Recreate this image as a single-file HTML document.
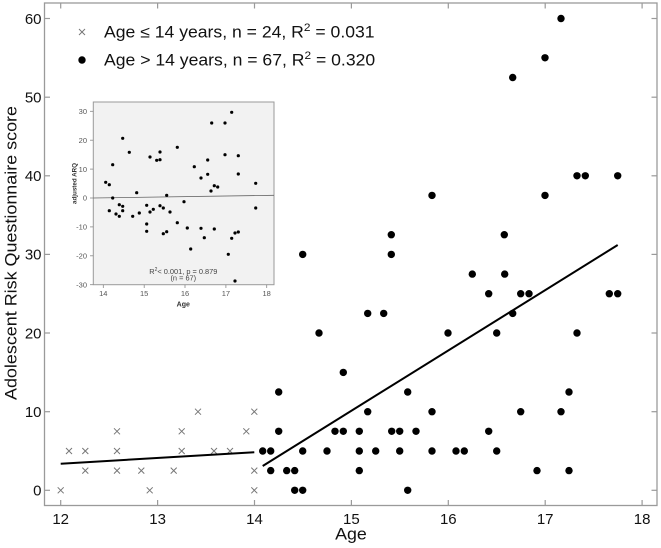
<!DOCTYPE html>
<html>
<head>
<meta charset="utf-8">
<style>
  html, body { margin: 0; padding: 0; background: #ffffff; }
  svg { display: block; }
  text { font-family: "Liberation Sans", Arial, sans-serif; }
</style>
</head>
<body>
<svg width="661" height="548" viewBox="0 0 661 548" xmlns="http://www.w3.org/2000/svg">
  <rect x="0" y="0" width="661" height="548" fill="#ffffff"/>

  <!-- main frame -->
  <rect x="44.5" y="3" width="612.5" height="502.5" fill="none" stroke="#9a9a9a" stroke-width="1.3"/>

  <!-- x ticks (top & bottom, inward) -->
  <g stroke="#9a9a9a" stroke-width="1.2">
    <line x1="60.7" y1="505.5" x2="60.7" y2="500"/><line x1="60.7" y1="3" x2="60.7" y2="8.5"/>
    <line x1="157.6" y1="505.5" x2="157.6" y2="500"/><line x1="157.6" y1="3" x2="157.6" y2="8.5"/>
    <line x1="254.5" y1="505.5" x2="254.5" y2="500"/><line x1="254.5" y1="3" x2="254.5" y2="8.5"/>
    <line x1="351.4" y1="505.5" x2="351.4" y2="500"/><line x1="351.4" y1="3" x2="351.4" y2="8.5"/>
    <line x1="448.3" y1="505.5" x2="448.3" y2="500"/><line x1="448.3" y1="3" x2="448.3" y2="8.5"/>
    <line x1="545.2" y1="505.5" x2="545.2" y2="500"/><line x1="545.2" y1="3" x2="545.2" y2="8.5"/>
    <line x1="642.1" y1="505.5" x2="642.1" y2="500"/><line x1="642.1" y1="3" x2="642.1" y2="8.5"/>
    <!-- y ticks left & right, inward -->
    <line x1="44.5" y1="490.3" x2="50" y2="490.3"/><line x1="657" y1="490.3" x2="651.5" y2="490.3"/>
    <line x1="44.5" y1="411.7" x2="50" y2="411.7"/><line x1="657" y1="411.7" x2="651.5" y2="411.7"/>
    <line x1="44.5" y1="333.0" x2="50" y2="333.0"/><line x1="657" y1="333.0" x2="651.5" y2="333.0"/>
    <line x1="44.5" y1="254.4" x2="50" y2="254.4"/><line x1="657" y1="254.4" x2="651.5" y2="254.4"/>
    <line x1="44.5" y1="175.8" x2="50" y2="175.8"/><line x1="657" y1="175.8" x2="651.5" y2="175.8"/>
    <line x1="44.5" y1="97.2" x2="50" y2="97.2"/><line x1="657" y1="97.2" x2="651.5" y2="97.2"/>
    <line x1="44.5" y1="18.5" x2="50" y2="18.5"/><line x1="657" y1="18.5" x2="651.5" y2="18.5"/>
  </g>

  <!-- y tick labels -->
  <g font-size="15" fill="#111" text-anchor="end">
    <text x="41.5" y="495.6">0</text>
    <text x="41.5" y="417.0">10</text>
    <text x="41.5" y="338.3">20</text>
    <text x="41.5" y="259.7">30</text>
    <text x="41.5" y="181.1">40</text>
    <text x="41.5" y="102.5">50</text>
    <text x="41.5" y="23.8">60</text>
  </g>
  <!-- x tick labels -->
  <g font-size="15" fill="#111" text-anchor="middle">
    <text x="60.7" y="524">12</text>
    <text x="157.6" y="524">13</text>
    <text x="254.5" y="524">14</text>
    <text x="351.4" y="524">15</text>
    <text x="448.3" y="524">16</text>
    <text x="545.2" y="524">17</text>
    <text x="642.1" y="524">18</text>
  </g>

  <!-- axis titles -->
  <text x="351" y="539.5" font-size="16.3" fill="#111" text-anchor="middle" textLength="31.7" lengthAdjust="spacingAndGlyphs">Age</text>
  <text transform="translate(16.5,253) rotate(-90)" x="0" y="0" font-size="16.3" fill="#111" text-anchor="middle" textLength="294" lengthAdjust="spacingAndGlyphs">Adolescent Risk Questionnaire score</text>

  <!-- legend -->
  <g stroke="#777" stroke-width="1">
    <line x1="79" y1="29" x2="85" y2="35"/><line x1="85" y1="29" x2="79" y2="35"/>
  </g>
  <circle cx="82" cy="60" r="3.7" fill="#000"/>
  <g font-size="16.3" fill="#111">
    <text transform="translate(104,37.5) scale(1.08,1)">Age ≤ 14 years, n = 24, R<tspan font-size="11" dy="-6.5">2</tspan><tspan dy="6.5"> = 0.031</tspan></text>
    <text transform="translate(104,65.5) scale(1.08,1)">Age &gt; 14 years, n = 67, R<tspan font-size="11" dy="-6.5">2</tspan><tspan dy="6.5"> = 0.320</tspan></text>
  </g>

  <!-- inset -->
  <rect x="93.3" y="102" width="180.7" height="182.7" fill="#f2f2f2" stroke="#9a9a9a" stroke-width="1"/>
  <g stroke="#888" stroke-width="0.8">
    <line x1="93.3" y1="111.3" x2="90" y2="111.3"/>
    <line x1="93.3" y1="140.2" x2="90" y2="140.2"/>
    <line x1="93.3" y1="169.1" x2="90" y2="169.1"/>
    <line x1="93.3" y1="198" x2="90" y2="198"/>
    <line x1="93.3" y1="226.9" x2="90" y2="226.9"/>
    <line x1="93.3" y1="255.8" x2="90" y2="255.8"/>
    <line x1="93.3" y1="284.7" x2="90" y2="284.7"/>
    <line x1="103.3" y1="284.7" x2="103.3" y2="288"/>
    <line x1="144.2" y1="284.7" x2="144.2" y2="288"/>
    <line x1="185" y1="284.7" x2="185" y2="288"/>
    <line x1="225.9" y1="284.7" x2="225.9" y2="288"/>
    <line x1="266.7" y1="284.7" x2="266.7" y2="288"/>
  </g>
  <g font-size="7.5" fill="#555" text-anchor="end">
    <text x="87" y="114">30</text>
    <text x="87" y="142.9">20</text>
    <text x="87" y="171.8">10</text>
    <text x="87" y="200.7">0</text>
    <text x="87" y="229.6">-10</text>
    <text x="87" y="258.5">-20</text>
    <text x="87" y="287.4">-30</text>
  </g>
  <g font-size="7.5" fill="#555" text-anchor="middle">
    <text x="103.3" y="296">14</text>
    <text x="144.2" y="296">15</text>
    <text x="185" y="296">16</text>
    <text x="225.9" y="296">17</text>
    <text x="266.7" y="296">18</text>
  </g>
  <text x="183.3" y="306.5" font-size="7" font-weight="bold" fill="#333" text-anchor="middle">Age</text>
  <text transform="translate(76.5,183.5) rotate(-90)" x="0" y="0" font-size="6.5" font-weight="bold" fill="#333" text-anchor="middle" textLength="41" lengthAdjust="spacingAndGlyphs">adjusted ARQ</text>
  <text x="183.3" y="274" font-size="7.4" fill="#444" text-anchor="middle">R<tspan font-size="5" dy="-3">2</tspan><tspan dy="3">&lt; 0.001, p = 0.879</tspan></text>
  <text x="183.3" y="280.5" font-size="7.4" fill="#444" text-anchor="middle">(n = 67)</text>

  <line x1="93.3" y1="198" x2="274" y2="195.3" stroke="#666" stroke-width="0.8"/>
  <g fill="#000">
    <circle cx="105.7" cy="182.3" r="1.6"/><circle cx="109.3" cy="184.7" r="1.6"/>
    <circle cx="112.7" cy="164.7" r="1.6"/><circle cx="112.7" cy="198" r="1.6"/>
    <circle cx="109.3" cy="210.7" r="1.6"/><circle cx="116" cy="214" r="1.6"/>
    <circle cx="119.3" cy="204.7" r="1.6"/><circle cx="119.3" cy="216.3" r="1.6"/>
    <circle cx="122.7" cy="206.3" r="1.6"/><circle cx="122.7" cy="210.7" r="1.6"/>
    <circle cx="122.7" cy="138.3" r="1.6"/><circle cx="129.3" cy="152.3" r="1.6"/>
    <circle cx="132.7" cy="216.3" r="1.6"/><circle cx="136.7" cy="192.7" r="1.6"/>
    <circle cx="139.3" cy="213" r="1.6"/><circle cx="146.7" cy="205.3" r="1.6"/>
    <circle cx="146.7" cy="224" r="1.6"/><circle cx="146.7" cy="231.3" r="1.6"/>
    <circle cx="150" cy="157" r="1.6"/><circle cx="150" cy="212" r="1.6"/>
    <circle cx="153.3" cy="209.3" r="1.6"/><circle cx="156.7" cy="160.3" r="1.6"/>
    <circle cx="160" cy="159.7" r="1.6"/><circle cx="160" cy="152" r="1.6"/>
    <circle cx="160" cy="205.7" r="1.6"/><circle cx="163.3" cy="208" r="1.6"/>
    <circle cx="163.3" cy="233.7" r="1.6"/><circle cx="166.7" cy="195.3" r="1.6"/>
    <circle cx="166.7" cy="231.7" r="1.6"/><circle cx="170" cy="212" r="1.6"/>
    <circle cx="177.3" cy="147.3" r="1.6"/><circle cx="177.3" cy="222.7" r="1.6"/>
    <circle cx="184" cy="201.7" r="1.6"/><circle cx="187.3" cy="228" r="1.6"/>
    <circle cx="190.7" cy="249" r="1.6"/><circle cx="194.3" cy="166.7" r="1.6"/>
    <circle cx="201" cy="178" r="1.6"/><circle cx="201" cy="228.3" r="1.6"/>
    <circle cx="204.3" cy="237.7" r="1.6"/><circle cx="207.7" cy="160" r="1.6"/>
    <circle cx="207.7" cy="174.3" r="1.6"/><circle cx="211" cy="191" r="1.6"/>
    <circle cx="211.7" cy="123" r="1.6"/><circle cx="214.3" cy="185.7" r="1.6"/>
    <circle cx="214.3" cy="229" r="1.6"/><circle cx="217.7" cy="187" r="1.6"/>
    <circle cx="225" cy="123" r="1.6"/><circle cx="225" cy="154.7" r="1.6"/>
    <circle cx="228.3" cy="254.3" r="1.6"/><circle cx="231.7" cy="112.3" r="1.6"/>
    <circle cx="231.7" cy="238.3" r="1.6"/><circle cx="235" cy="233" r="1.6"/>
    <circle cx="235" cy="281" r="1.6"/><circle cx="238.3" cy="155.7" r="1.6"/>
    <circle cx="238.3" cy="174" r="1.6"/><circle cx="238.3" cy="232" r="1.6"/>
    <circle cx="255.7" cy="183.3" r="1.6"/><circle cx="255.7" cy="208" r="1.6"/>
  </g>

  <!-- crosses: age <= 14 -->
  <g stroke="#777" stroke-width="1" fill="none">
    <path d="M57.7 487.3l6 6M63.7 487.3l-6 6"/>
    <path d="M66 448l6 6M72 448l-6 6"/>
    <path d="M82.3 448l6 6M88.3 448l-6 6"/>
    <path d="M82.3 467.6l6 6M88.3 467.6l-6 6"/>
    <path d="M114 428.3l6 6M120 428.3l-6 6"/>
    <path d="M114 448l6 6M120 448l-6 6"/>
    <path d="M114 467.6l6 6M120 467.6l-6 6"/>
    <path d="M138.3 467.6l6 6M144.3 467.6l-6 6"/>
    <path d="M146.7 487.3l6 6M152.7 487.3l-6 6"/>
    <path d="M170.7 467.6l6 6M176.7 467.6l-6 6"/>
    <path d="M178.7 428.3l6 6M184.7 428.3l-6 6"/>
    <path d="M178.7 448l6 6M184.7 448l-6 6"/>
    <path d="M195 408.7l6 6M201 408.7l-6 6"/>
    <path d="M211 448l6 6M217 448l-6 6"/>
    <path d="M227 448l6 6M233 448l-6 6"/>
    <path d="M243.3 428.3l6 6M249.3 428.3l-6 6"/>
    <path d="M251.3 408.7l6 6M257.3 408.7l-6 6"/>
    <path d="M251.3 467.6l6 6M257.3 467.6l-6 6"/>
    <path d="M251.3 487.3l6 6M257.3 487.3l-6 6"/>
  </g>

  <!-- regression lines -->
  <line x1="60.7" y1="463.7" x2="254.3" y2="452.3" stroke="#000" stroke-width="2"/>
  <line x1="262.7" y1="466" x2="617.7" y2="245" stroke="#000" stroke-width="2"/>

  <!-- dots: age > 14 -->
  <g fill="#000">
    <circle cx="262.7" cy="451" r="3.7"/><circle cx="270.7" cy="451" r="3.7"/>
    <circle cx="270.7" cy="470.6" r="3.7"/><circle cx="278.7" cy="392" r="3.7"/>
    <circle cx="278.7" cy="431.3" r="3.7"/><circle cx="286.7" cy="470.6" r="3.7"/>
    <circle cx="294.7" cy="470.6" r="3.7"/><circle cx="294.7" cy="490.3" r="3.7"/>
    <circle cx="302.7" cy="490.3" r="3.7"/><circle cx="302.7" cy="451" r="3.7"/>
    <circle cx="319" cy="333" r="3.7"/><circle cx="327" cy="451" r="3.7"/>
    <circle cx="302.7" cy="254.4" r="3.7"/>
    <circle cx="335" cy="431.3" r="3.7"/><circle cx="343.3" cy="431.3" r="3.7"/>
    <circle cx="343.3" cy="372.4" r="3.7"/><circle cx="359.3" cy="431.3" r="3.7"/>
    <circle cx="359.3" cy="451" r="3.7"/><circle cx="359.3" cy="470.6" r="3.7"/>
    <circle cx="367.7" cy="411.7" r="3.7"/><circle cx="367.7" cy="313.4" r="3.7"/>
    <circle cx="375.7" cy="451" r="3.7"/><circle cx="383.7" cy="313.4" r="3.7"/>
    <circle cx="391.7" cy="431.3" r="3.7"/><circle cx="399.7" cy="431.3" r="3.7"/>
    <circle cx="399.7" cy="451" r="3.7"/><circle cx="407.7" cy="392" r="3.7"/>
    <circle cx="407.7" cy="490.3" r="3.7"/><circle cx="416" cy="431.3" r="3.7"/>
    <circle cx="432" cy="411.7" r="3.7"/><circle cx="432" cy="451" r="3.7"/>
    <circle cx="448" cy="333" r="3.7"/><circle cx="456" cy="451" r="3.7"/>
    <circle cx="464.3" cy="451" r="3.7"/><circle cx="472.3" cy="274.1" r="3.7"/>
    <circle cx="488.7" cy="293.7" r="3.7"/><circle cx="488.7" cy="431.3" r="3.7"/>
    <circle cx="496.7" cy="333" r="3.7"/><circle cx="496.7" cy="451" r="3.7"/>
    <circle cx="504.7" cy="274.1" r="3.7"/><circle cx="512.7" cy="313.4" r="3.7"/>
    <circle cx="520.7" cy="293.7" r="3.7"/><circle cx="520.7" cy="411.7" r="3.7"/>
    <circle cx="529" cy="293.7" r="3.7"/><circle cx="537" cy="470.6" r="3.7"/>
    <circle cx="561" cy="411.7" r="3.7"/><circle cx="569" cy="392" r="3.7"/>
    <circle cx="569" cy="470.6" r="3.7"/><circle cx="577" cy="333" r="3.7"/>
    <circle cx="609.3" cy="293.7" r="3.7"/><circle cx="617.7" cy="293.7" r="3.7"/>
    <circle cx="561" cy="18.5" r="3.7"/><circle cx="545" cy="57.8" r="3.7"/>
    <circle cx="512.7" cy="77.5" r="3.7"/><circle cx="577" cy="175.8" r="3.7"/>
    <circle cx="585.3" cy="175.8" r="3.7"/><circle cx="617.7" cy="175.8" r="3.7"/>
    <circle cx="432" cy="195.4" r="3.7"/><circle cx="545" cy="195.4" r="3.7"/>
    <circle cx="391.3" cy="234.7" r="3.7"/><circle cx="504.3" cy="234.7" r="3.7"/>
    <circle cx="391.3" cy="254.4" r="3.7"/>
  </g>
</svg>
</body>
</html>
